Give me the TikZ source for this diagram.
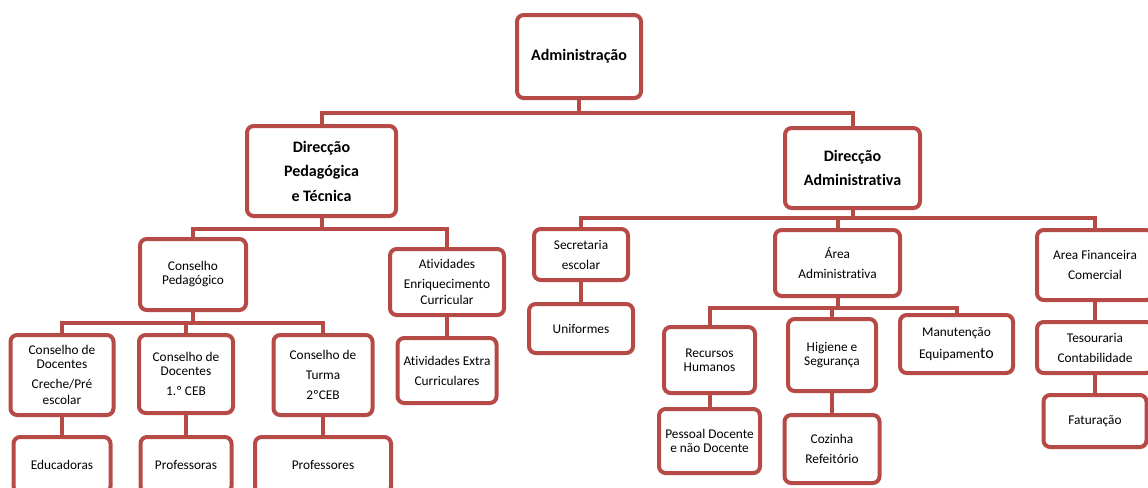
\documentclass[tikz,border=0pt]{standalone}
\usepackage{fontspec}
\setmainfont{Carlito}[Ligatures=NoCommon]
\usetikzlibrary{calc}
\definecolor{boxred}{RGB}{181,74,71}

\begin{document}
\begin{tikzpicture}[x=0.75pt,y=-0.75pt,
    box/.style 2 args={draw=boxred, line width=3pt, rounded corners=5pt, fill=white,
        align=center, inner sep=1pt, font=\fontsize{10}{12}\selectfont,
        minimum width=#1*0.75pt, minimum height=#2*0.75pt},
    head/.style={font=\fontsize{12}{14.4}\selectfont\bfseries},
    link/.style={draw=boxred, line width=3pt}]
    \useasboundingbox (0,0) rectangle (1148,487);

    % Topo
    \node[box={124}{83}, head] (adm) at (579,56.5) {Administração};
    \node[box={149}{90}, head] (dp) at (321.5,171) {Direcção\\[4pt]Pedagógica\\[4pt]e Técnica};
    \node[box={135}{80}, head] (da) at (852.5,168) {Direcção\\[4pt]Administrativa};

    % Ramo pedagogico
    \node[box={106}{71}] (cp) at (193,274.5) {Conselho\\[-1.5pt]Pedagógico};
    \node[box={114}{66}] (ae) at (447,282) {Atividades\\[3pt]Enriquecimento\\Curricular};
    \node[box={99}{65}] (aex) at (447,370.5) {Atividades Extra\\[3pt]Curriculares};
    \node[box={103}{80}] (cd1) at (62,375) {Conselho de\\[-1.5pt]Docentes\\[3pt]Creche/Pré\\escolar};
    \node[box={94}{78}] (cd2) at (186,374) {Conselho de\\[-1.5pt]Docentes\\[3pt]1.º CEB};
    \node[box={99}{80}] (ct) at (323,375) {Conselho de\\[3pt]Turma\\[3pt]2ºCEB};
    \node[box={97}{56}] (edu) at (62,465) {Educadoras};
    \node[box={91}{56}] (pra) at (186,465) {Professoras};
    \node[box={136}{56}] (pro) at (323,465) {Professores};

    % Ramo administrativo
    \node[box={94}{51}] (sec) at (581,254.5) {Secretaria\\[3pt]escolar};
    \node[box={104}{49}] (uni) at (581,328.5) {Uniformes};
    \node[box={125}{66}] (aa) at (837.5,263) {Área\\[3pt]Administrativa};
    \node[box={116}{70}] (af) at (1095,265) {Area Financeira\\[3pt]Comercial};
    \node[box={116}{51}] (tes) at (1095,347.5) {Tesouraria\\[3pt]Contabilidade};
    \node[box={103}{52}] (fat) at (1095,421) {Faturação};
    \node[box={91}{66}] (rh) at (709.5,360) {Recursos\\[-1.5pt]Humanos};
    \node[box={101}{64}] (pd) at (709.5,441) {Pessoal Docente\\[-1pt]e não Docente};
    \node[box={88}{72}] (hig) at (832,355) {Higiene e\\[-1.5pt]Segurança};
    \node[box={95}{68}] (coz) at (832,449) {Cozinha\\[3pt]Refeitório};
    \node[box={113}{58}] (man) at (956.5,344) {Manutenção\\[5pt]Equipamen{\fontsize{12}{12}\selectfont to}};

    % Ligacoes
    \draw[link] (adm.south) -- ++(0,13) coordinate (j0) -| (dp.north);
    \draw[link] (j0) -| (da.north);

    \draw[link] (dp.south) -- ++(0,11) coordinate (j1) -| (cp.north);
    \draw[link] (j1) -| (ae.north);
    \draw[link] (ae.south) -- (aex.north);

    \draw[link] (cp.south) -- ++(0,11) coordinate (j2) -| (cd1.north);
    \draw[link] (j2) -| (cd2.north);
    \draw[link] (j2) -| (ct.north);
    \draw[link] (cd1.south) -- (edu.north);
    \draw[link] (cd2.south) -- (pra.north);
    \draw[link] (ct.south) -- (pro.north);

    \draw[link] (da.south) -- ++(0,8) coordinate (j3) -| (sec.north);
    \draw[link] (j3) -| (aa.north);
    \draw[link] (j3) -| (af.north);
    \draw[link] (sec.south) -- (uni.north);
    \draw[link] (af.south) -- (tes.north);
    \draw[link] (tes.south) -- (fat.north);

    \draw[link] (aa.south) -- ++(0,10) coordinate (j4) -| (rh.north);
    \draw[link] (j4) -| (hig.north);
    \draw[link] (j4) -| (man.north);
    \draw[link] (rh.south) -- (pd.north);
    \draw[link] (hig.south) -- (coz.north);
\end{tikzpicture}
\end{document}
